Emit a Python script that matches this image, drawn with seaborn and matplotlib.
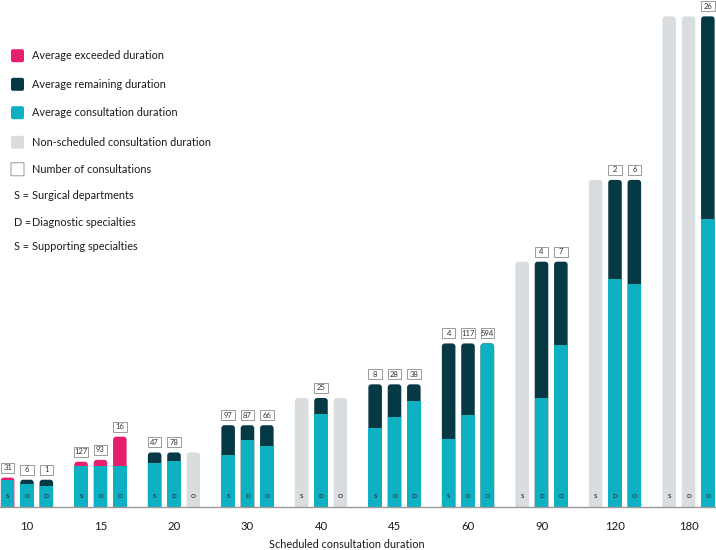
import numpy as np
import pandas as pd
import seaborn as sns
import matplotlib
matplotlib.use("Agg")
import matplotlib.pyplot as plt
from matplotlib.patches import FancyBboxPatch, Rectangle

# DATA
groups = ["10", "15", "20", "30", "40", "45", "60", "90", "120", "180"]
depts = ["S", "D", "O"]
# average consultation duration (nan = non-scheduled)
consult_S = [10.0, 15.0, 16.3, 19.1, np.nan, 29.0, 25.1, np.nan, np.nan, np.nan]
consult_D = [8.4, 15.0, 17.0, 24.4, 34.2, 33.1, 33.7, 40.0, 83.5, np.nan]
consult_O = [7.7, 15.0, np.nan, 22.2, np.nan, 38.9, 60.0, 59.3, 81.7, 105.5]
# average exceeded duration beyond the scheduled slot
exceeded_S = [0.8, 1.6, 0, 0, 0, 0, 0, 0, 0, 0]
exceeded_D = [0, 2.3, 0, 0, 0, 0, 0, 0, 0, 0]
exceeded_O = [0, 10.8, 0, 0, 0, 0, 0, 0, 0, 0]
# number of consultations
counts_S = [31, 127, 47, 97, None, 8, 4, None, None, None]
counts_D = [6, 93, 78, 87, 25, 28, 117, 4, 2, None]
counts_O = [1, 16, None, 66, None, 38, 594, 7, 6, 26]

legend_items = ["Average exceeded duration", "Average remaining duration",
                "Average consultation duration", "Non-scheduled consultation duration",
                "Number of consultations"]
abbrev = [("S", "Surgical departments"), ("D", "Diagnostic specialties"),
          ("S", "Supporting specialties")]

# COLOURS
PINK = "#e5216f"
DARK = "#063943"
CYAN = "#0db1c1"
GREY = "#dadde0"

rows = []
for d, cons, exc, cnt in zip(depts, [consult_S, consult_D, consult_O],
                             [exceeded_S, exceeded_D, exceeded_O],
                             [counts_S, counts_D, counts_O]):
    for g, c, e, n in zip(groups, cons, exc, cnt):
        sched = float(g)
        rows.append(dict(group=g, dept=d, consult=0.0 if np.isnan(c) else c,
                         nonsched=bool(np.isnan(c)), exceeded=e,
                         total=sched + e, count=n))
df = pd.DataFrame(rows)

# FIGURE
W, H = 716, 550
BASE = 507
YMAX = 186.0
px_per_unit = BASE / YMAX

sns.set_theme(style="white")
plt.rcParams["font.family"] = ["Lato", "DejaVu Sans"]

fig = plt.figure(figsize=(W / 100, H / 100), dpi=100)
ax = fig.add_axes([0, (H - BASE) / H, 1, BASE / H])

sns.barplot(data=df, x="group", y="total", hue="dept", order=groups, hue_order=depts,
            width=0.79, gap=0.3, errorbar=None, legend=False, ax=ax)
sns.barplot(data=df, x="group", y="consult", hue="dept", order=groups, hue_order=depts,
            width=0.79, gap=0.3, errorbar=None, legend=False, ax=ax)

ax.set_xlim(-0.367, 9.374)
ax.set_ylim(0, YMAX)

x_px = (W) / (9.374 + 0.367)
r = 3 / x_px
asp = x_px / px_per_unit

def rounded(bar, color, z):
    x, w, h = bar.get_x(), bar.get_width(), bar.get_height()
    p = FancyBboxPatch((x, -3), w, h + 3, boxstyle=f"round,pad=0,rounding_size={r}",
                       mutation_aspect=asp, facecolor=color, edgecolor="none",
                       zorder=z)
    ax.add_patch(p)
    bar.remove()

for i, d in enumerate(depts):
    sub = df[df.dept == d].set_index("group").loc[groups]
    top_bars = list(ax.containers[i])
    cyan_bars = list(ax.containers[i + 3])
    for g, tb, cb in zip(groups, top_bars, cyan_bars):
        row = sub.loc[g]
        xc = tb.get_x() + tb.get_width() / 2
        w = tb.get_width()
        if row.nonsched:
            color = GREY
        elif row.exceeded > 0:
            color = PINK
        else:
            color = DARK
        rounded(tb, color, 1)
        if row.consult >= row.total:
            rounded(cb, CYAN, 2)
        else:
            cb.set_facecolor(CYAN)
            cb.set_edgecolor("none")
            cb.set_zorder(2)
        # department letter at bar foot
        ax.text(xc, 10 / px_per_unit, d, ha="center", va="center", fontsize=4.5,
                color="#2a3a3f", fontweight="bold", zorder=3)
        # count box
        if row["count"] is not None and not pd.isna(row["count"]):
            y0 = row.total + 5 / px_per_unit
            bh = 10 / px_per_unit
            ax.add_patch(Rectangle((xc - w / 2, y0), w, bh, facecolor="white",
                                   edgecolor="#8a8a8a", lw=0.6, zorder=3))
            ax.text(xc, y0 + bh / 2, str(int(row["count"])), ha="center", va="center",
                    fontsize=5.5, color="#333333", zorder=4)

# axes styling
for s in ["top", "left", "right"]:
    ax.spines[s].set_visible(False)
ax.spines["bottom"].set_color("#9a9a9a")
ax.spines["bottom"].set_linewidth(1)
ax.set_yticks([])
ax.tick_params(axis="x", length=0, pad=10, labelsize=8.2, colors="#1a1a1a")
ax.set_ylabel("")
ax.set_xlabel("Scheduled consultation duration", fontsize=7.8, color="#1a1a1a")
ax.xaxis.set_label_coords(347 / W, -(545 - BASE) / BASE)
ax.xaxis.label.set_va("center")

# legend
colors = [PINK, DARK, CYAN, GREY, "white"]
ys = [55.7, 84.3, 112.7, 142.3, 169.3]
for lab, c, y in zip(legend_items, colors, ys):
    edge = "#8a8a8a" if c == "white" else "none"
    rs = 0.3 / W if c == "white" else 2 / W
    fig.add_artist(FancyBboxPatch((11 / W, 1 - (y + 6.5) / H), 13 / W, 13 / H,
                                  boxstyle=f"round,pad=0,rounding_size={rs}",
                                  mutation_aspect=W / H, facecolor=c, edgecolor=edge,
                                  lw=0.6, transform=fig.transFigure))
    fig.text(32 / W, 1 - y / H, lab, ha="left", va="center", fontsize=7.8,
             color="#1a1a1a")
for (k, lab), y in zip(abbrev, [195.7, 222.3, 246.7]):
    fig.text(14 / W, 1 - y / H, f"{k} =", ha="left", va="center", fontsize=7.8,
             color="#1a1a1a")
    fig.text(32 / W, 1 - y / H, lab, ha="left", va="center", fontsize=7.8,
             color="#1a1a1a")

fig.savefig("out.png", dpi=100)
